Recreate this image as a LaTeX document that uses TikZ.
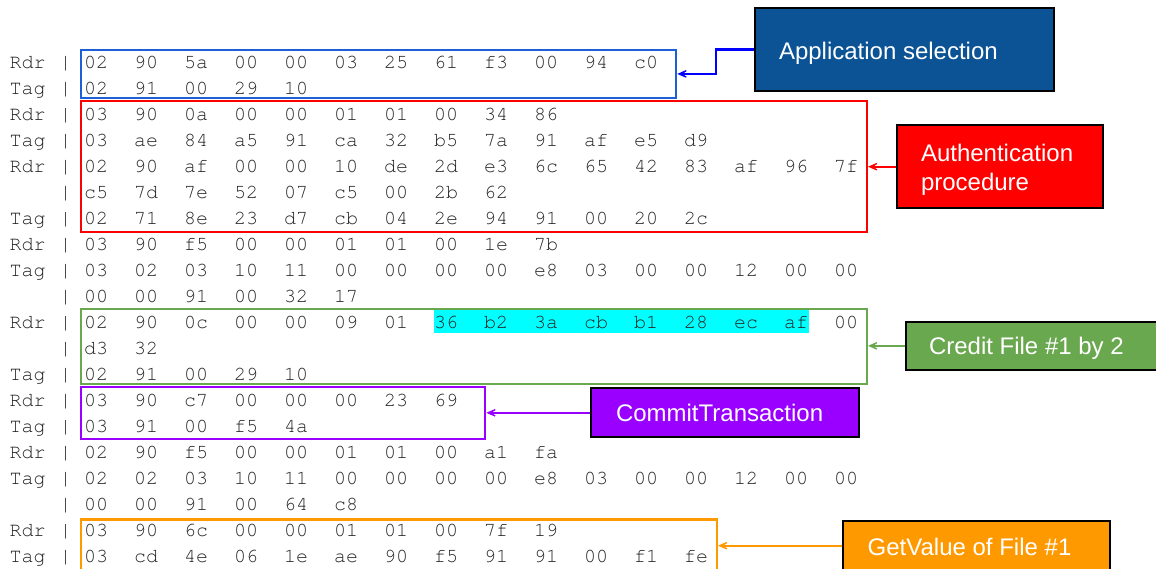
\documentclass[tikz,border=0pt]{standalone}
\usepackage{fontspec}
\setmonofont{TeX Gyre Cursor}
\newfontfamily\lblfont{Liberation Sans}
\usetikzlibrary{arrows.meta}

\definecolor{selblue}{HTML}{0B5394}
\definecolor{selframe}{HTML}{1C5FD6}
\definecolor{authred}{HTML}{FF0000}
\definecolor{credgreen}{HTML}{6AA84F}
\definecolor{compurple}{HTML}{9900FF}
\definecolor{valorange}{HTML}{FF9900}
\definecolor{hexgrey}{HTML}{222222}
\definecolor{hilite}{HTML}{00FFFF}

\tikzset{
  hex/.style={anchor=base west, inner sep=0pt, outer sep=0pt, text=hexgrey,
              font=\fontsize{20}{24}\selectfont\ttfamily},
  grp/.style={draw=#1, line width=2.3pt, anchor=north west, inner sep=0pt, outer sep=1.15pt},
  tagbox/.style={draw=black, fill=#1, line width=2pt, inner sep=0pt, outer sep=1pt},
  tagtext/.style={text=white, inner sep=0pt, outer sep=0pt, align=left,
                  font=\lblfont\fontsize{24}{29}\selectfont},
  link/.style={draw=#1, line width=2.3pt, -{Stealth[length=16pt,width=14pt,inset=11pt]}},
}

% one line of the trace: row number, direction label, list of bytes
\newcommand\hexrow[3]{%
  \if\relax\detokenize{#2}\relax\else
    \node[hex] (d#1) at (9.5,{68.3+26*(#1-1)}) {#2};
  \fi
  \node[hex] (s#1) at (59.5,{68.3+26*(#1-1)}) {|};
  \foreach \hb [count=\c] in {#3} {
    \node[hex] (b#1-\c) at ({84+50*(\c-1)},{68.3+26*(#1-1)}) {\hb};
  }%
}

\begin{document}
\begin{tikzpicture}[x=1pt,y=-1pt]
  \useasboundingbox (0,0) rectangle (1156,568);
  \clip (0,0) rectangle (1156,568);
  \fill[white] (0,0) rectangle (1156,568);

  % highlighted credit value
  \node[fill=hilite, anchor=north west, minimum width=375pt, minimum height=23pt,
        inner sep=0pt] (hl) at (434,309.3) {};

  % the trace
  \hexrow{1}{Rdr}{02,90,5a,00,00,03,25,61,f3,00,94,c0}
  \hexrow{2}{Tag}{02,91,00,29,10}
  \hexrow{3}{Rdr}{03,90,0a,00,00,01,01,00,34,86}
  \hexrow{4}{Tag}{03,ae,84,a5,91,ca,32,b5,7a,91,af,e5,d9}
  \hexrow{5}{Rdr}{02,90,af,00,00,10,de,2d,e3,6c,65,42,83,af,96,7f}
  \hexrow{6}{}{c5,7d,7e,52,07,c5,00,2b,62}
  \hexrow{7}{Tag}{02,71,8e,23,d7,cb,04,2e,94,91,00,20,2c}
  \hexrow{8}{Rdr}{03,90,f5,00,00,01,01,00,1e,7b}
  \hexrow{9}{Tag}{03,02,03,10,11,00,00,00,00,e8,03,00,00,12,00,00}
  \hexrow{10}{}{00,00,91,00,32,17}
  \hexrow{11}{Rdr}{02,90,0c,00,00,09,01,36,b2,3a,cb,b1,28,ec,af,00}
  \hexrow{12}{}{d3,32}
  \hexrow{13}{Tag}{02,91,00,29,10}
  \hexrow{14}{Rdr}{03,90,c7,00,00,00,23,69}
  \hexrow{15}{Tag}{03,91,00,f5,4a}
  \hexrow{16}{Rdr}{02,90,f5,00,00,01,01,00,a1,fa}
  \hexrow{17}{Tag}{02,02,03,10,11,00,00,00,00,e8,03,00,00,12,00,00}
  \hexrow{18}{}{00,00,91,00,64,c8}
  \hexrow{19}{Rdr}{03,90,6c,00,00,01,01,00,7f,19}
  \hexrow{20}{Tag}{03,cd,4e,06,1e,ae,90,f5,91,91,00,f1,fe}

  % frames around the command groups
  \node[grp=selframe,   minimum width=595pt,   minimum height=48.5pt] (gsel)  at (80,48.5)  {};
  \node[grp=authred,    minimum width=785.7pt, minimum height=131pt]  (gauth) at (80,100)   {};
  \node[grp=credgreen,  minimum width=785.7pt, minimum height=75.3pt] (gcred) at (80,307.7) {};
  \node[grp=compurple,  minimum width=404pt,   minimum height=52.3pt] (gcom)  at (80,385.7) {};
  \node[grp=valorange,  minimum width=635.7pt, minimum height=62pt]   (gval)  at (80,518.3) {};

  % callout boxes
  \node[tagbox=selblue,   minimum width=299pt,   minimum height=82.4pt] (app)  at (904.5,49.5)   {};
  \node[tagbox=authred,   minimum width=206.6pt, minimum height=83.3pt] (auth) at (1000,166.7)   {};
  \node[tagbox=credgreen, minimum width=267pt,   minimum height=48.3pt] (cred) at (1039.2,345.85) {};
  \node[tagbox=compurple, minimum width=267.7pt, minimum height=49pt]   (com)  at (724.85,412.8) {};
  \node[tagbox=valorange, minimum width=267.3pt, minimum height=50pt]   (val)  at (976.35,545.7) {};

  \node[tagtext, anchor=base west]  (apptxt)  at (779,59.3)   {Application selection};
  \node[tagtext, anchor=north west] (authtxt) at (921,143.8)  {Authentication\\procedure};
  \node[tagtext, anchor=base west]  (credtxt) at (929,354.3)  {Credit File \#1 by 2};
  \node[tagtext, anchor=base west]  (comtxt)  at (616,421.7)  {CommitTransaction};
  \node[tagtext, anchor=base west]  (valtxt)  at (867.7,555)  {GetValue of File \#1};

  % pointers from callouts to frames
  \draw[link=blue]       (app.west) -- ++(-38,0) |- (gsel.east);
  \draw[link=authred]    (auth.west) -- (gauth.east |- auth.west);
  \draw[link=credgreen]  (cred.west) -- (gcred.east |- cred.west);
  \draw[link=compurple]  (com.west)  -- (gcom.east |- com.west);
  \draw[link=valorange]  (val.west)  -- (gval.east |- val.west);
\end{tikzpicture}
\end{document}
